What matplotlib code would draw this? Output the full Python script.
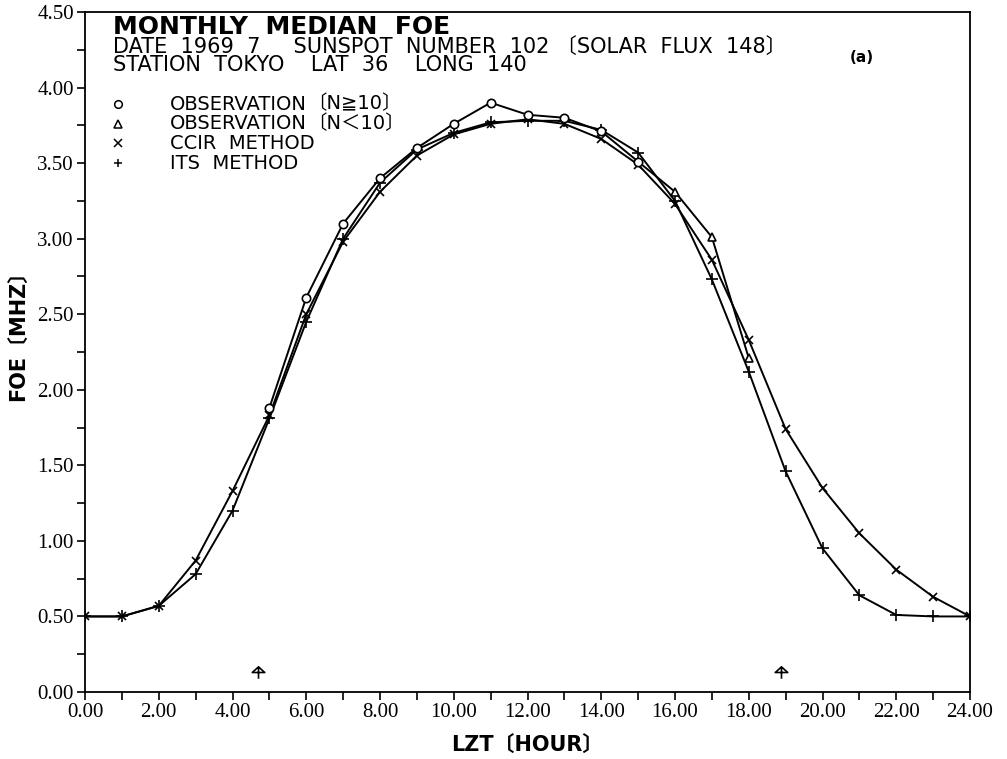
import matplotlib
matplotlib.use("Agg")
import matplotlib.pyplot as plt
from matplotlib.path import Path
import numpy as np

# hours 0..24
hours = list(range(0, 25))

# observation, N >= 10 (hours 5-15), N < 10 (hours 16-18)
obs_hours = [5, 6, 7, 8, 9, 10, 11, 12, 13, 14, 15, 16, 17, 18]
obs_values = [1.88, 2.61, 3.10, 3.40, 3.60, 3.76, 3.90, 3.82, 3.80, 3.71, 3.51, 3.31, 3.01, 2.21]
n_ge10_hours = [5, 6, 7, 8, 9, 10, 11, 12, 13, 14, 15]
n_lt10_hours = [16, 17, 18]

ccir_values = [0.50, 0.50, 0.57, 0.87, 1.33, 1.83, 2.50, 2.98, 3.31, 3.55, 3.69, 3.76,
               3.79, 3.76, 3.66, 3.49, 3.23, 2.86, 2.33, 1.74, 1.35, 1.05, 0.81, 0.63, 0.50]
its_values = [0.50, 0.50, 0.57, 0.78, 1.20, 1.81, 2.45, 3.00, 3.37, 3.59, 3.70, 3.77,
              3.78, 3.78, 3.72, 3.57, 3.25, 2.73, 2.12, 1.46, 0.95, 0.64, 0.51, 0.50, 0.50]

# sunrise / sunset marks
sun_hours = [4.68, 18.87]
sun_values = [0.13, 0.13]

x_ticks = np.arange(0, 25, 2)
x_labels = [f"{v:.2f}" for v in x_ticks]
y_ticks = np.arange(0, 4.51, 0.5)
y_labels = [f"{v:.2f}" for v in y_ticks]

title = "MONTHLY  MEDIAN  FOE"
header_line1 = "DATE  1969  7     SUNSPOT  NUMBER  102 〔SOLAR  FLUX  148〕"
header_line2 = "STATION  TOKYO    LAT  36    LONG  140"

legend_rows = [("o", "OBSERVATION", "〔N≧10〕"), ("^", "OBSERVATION", "〔N＜10〕"),
               ("x", "CCIR  METHOD", ""), ("+", "ITS  METHOD", "")]

SANS = ["DejaVu Sans", "Noto Sans CJK JP"]
SERIF = ["Liberation Serif", "DejaVu Serif"]

# umbrella-like marker for sunrise/sunset
umbrella = Path(
    [(-1.0, 0.0), (0.0, 0.9), (1.0, 0.0), (-1.0, 0.0), (0.0, 0.9), (0.0, -1.0)],
    [Path.MOVETO, Path.LINETO, Path.LINETO, Path.CLOSEPOLY, Path.MOVETO, Path.LINETO],
)

W, H = 1007, 759


def px(x, y):
    return x / W, 1 - y / H


fig = plt.figure(figsize=(W / 100, H / 100), dpi=100)
ax = fig.add_axes([85 / W, 1 - 692 / H, (970 - 85) / W, (692 - 12) / H])

lw = 1.4
ax.plot(hours, ccir_values, color="black", lw=lw, marker="x", ms=6, mew=1.2)
ax.plot(hours, its_values, color="black", lw=lw, marker="+", ms=8, mew=1.2)
ax.plot(obs_hours, obs_values, color="black", lw=lw)
ge = [obs_values[obs_hours.index(h)] for h in n_ge10_hours]
lt = [obs_values[obs_hours.index(h)] for h in n_lt10_hours]
ax.plot(n_ge10_hours, ge, ls="none", marker="o", ms=6, mfc="white", mec="black", mew=1.2)
ax.plot(n_lt10_hours, lt, ls="none", marker="^", ms=6, mfc="white", mec="black", mew=1.2)
ax.plot(sun_hours, sun_values, ls="none", marker=umbrella, ms=9, mfc="none", mec="black", mew=1.2)

ax.set_xlim(0, 24)
ax.set_ylim(0, 4.5)
ax.set_xticks(x_ticks)
ax.set_xticklabels(x_labels, fontfamily=SERIF, fontsize=15)
ax.set_xticks(np.arange(0, 25, 1), minor=True)
ax.set_yticks(y_ticks)
ax.set_yticklabels(y_labels, fontfamily=SERIF, fontsize=15)
ax.set_yticks(np.arange(0, 4.51, 0.25), minor=True)
ax.tick_params(which="both", direction="out", length=6, width=1.2, pad=2)
for s in ax.spines.values():
    s.set_linewidth(1.3)

fig.text(*px(527, 745), "LZT〔HOUR〕", family=SANS, fontsize=15,
         fontweight="bold", ha="center", va="center")
fig.text(*px(18, 330), "FOE〔MHZ〕", family=SANS, fontsize=15,
         fontweight="bold", ha="center", va="center", rotation=90)

fig.text(*px(113, 34), title, family=SANS, fontsize=18,
         fontweight="bold", ha="left", va="baseline")
fig.text(*px(113, 53), header_line1, family=SANS, fontsize=15, ha="left", va="baseline")
fig.text(*px(113, 71), header_line2, family=SANS, fontsize=15, ha="left", va="baseline")
fig.text(*px(862, 58), "(a)", family=SANS, fontsize=11, fontweight="bold",
         ha="center", va="center")

for i, (m, label, extra) in enumerate(legend_rows):
    lx, ly = px(118, 104 + i * 19.7)
    fig.lines.append(plt.Line2D([lx], [ly], transform=fig.transFigure, ls="none",
                                marker=m, ms=5.5, mfc="white", mec="black", mew=1.1))
    fig.text(*px(170, 104 + i * 19.7), label, family=SANS, fontsize=14, ha="left", va="center")
    if extra:
        fig.text(*px(307, 104 + i * 19.7), extra, family=SANS, fontsize=14, ha="left", va="center")

fig.savefig("out.png", dpi=100)
